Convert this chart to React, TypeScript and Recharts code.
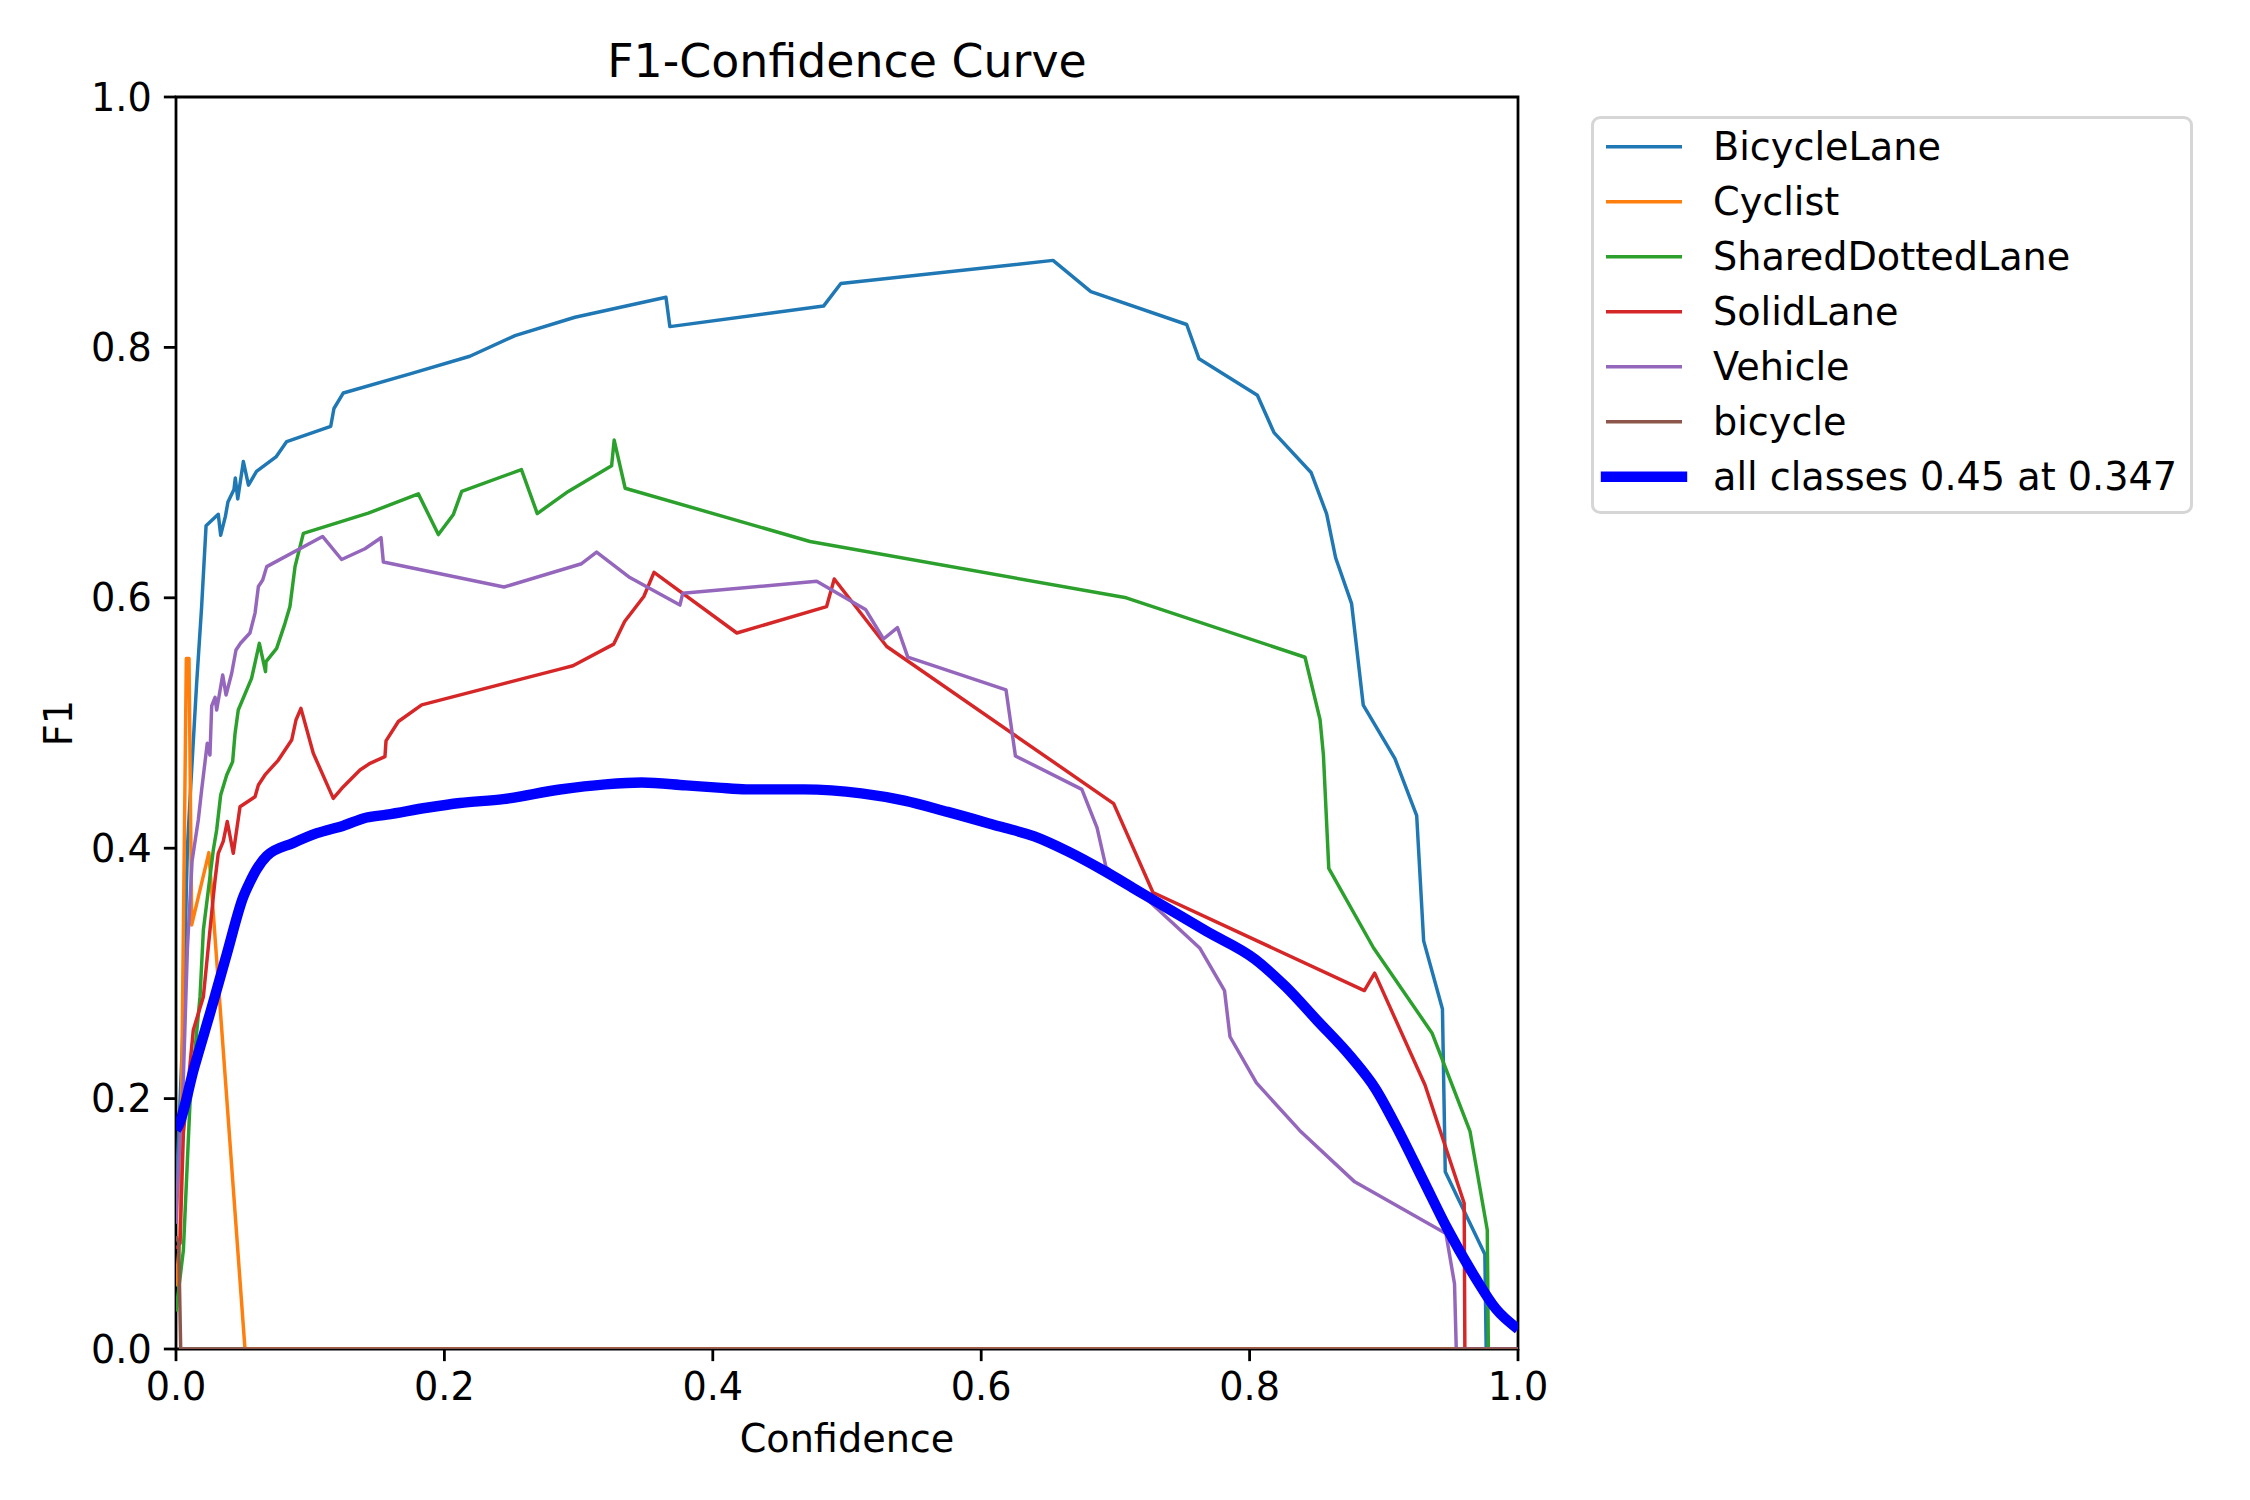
import { LineChart, Line, XAxis, YAxis, ReferenceArea, Legend } from "recharts"

// [confidence, F1] pairs per class
const bicycleLane = [
  [0, 0.12], [0.005, 0.25], [0.0085, 0.4], [0.011, 0.45], [0.0154, 0.532], [0.0191, 0.593],
  [0.0224, 0.6575], [0.0315, 0.6667], [0.0333, 0.65], [0.0368, 0.665], [0.0387, 0.6765],
  [0.0432, 0.6865], [0.0442, 0.6957], [0.046, 0.679], [0.0502, 0.7088], [0.054, 0.69],
  [0.06, 0.701], [0.0745, 0.7125], [0.0825, 0.7248], [0.1153, 0.737], [0.1177, 0.7512],
  [0.1247, 0.7636], [0.1744, 0.7788], [0.219, 0.7929], [0.2526, 0.8094], [0.2973, 0.8241],
  [0.3651, 0.84], [0.368, 0.8166], [0.4825, 0.833], [0.4954, 0.851], [0.6535, 0.8695],
  [0.6817, 0.8445], [0.7531, 0.8183], [0.7623, 0.7909], [0.8058, 0.7618], [0.8182, 0.7319],
  [0.8458, 0.7001], [0.8574, 0.667], [0.8641, 0.632], [0.876, 0.5953], [0.8847, 0.5142],
  [0.9083, 0.4715], [0.9245, 0.4261], [0.9297, 0.326], [0.9437, 0.2716], [0.9458, 0.1415],
  [0.9753, 0.0756], [0.9763, 0], [1, 0],
]

const cyclist = [
  [0, 0.05], [0.003, 0.09], [0.0077, 0.5516], [0.0097, 0.5516], [0.0117, 0.3387],
  [0.0245, 0.3965], [0.0514, 0], [1, 0],
]

const sharedDottedLane = [
  [0, 0.03], [0.0055, 0.079], [0.0104, 0.196], [0.0179, 0.2814], [0.0204, 0.3347],
  [0.0278, 0.3986], [0.0303, 0.4145], [0.0333, 0.4425], [0.0378, 0.4585], [0.0422, 0.4691],
  [0.044, 0.4917], [0.0464, 0.5104], [0.0563, 0.5356], [0.0621, 0.5636], [0.0667, 0.541],
  [0.0671, 0.549], [0.075, 0.5596], [0.0812, 0.5796], [0.0849, 0.593], [0.0887, 0.6249],
  [0.0949, 0.6515], [0.1433, 0.6676], [0.1806, 0.683], [0.1955, 0.6505], [0.2067, 0.6666],
  [0.2129, 0.685], [0.2574, 0.7024], [0.2692, 0.6673], [0.2923, 0.685], [0.3246, 0.7054],
  [0.3265, 0.726], [0.3347, 0.6875], [0.4724, 0.645], [0.7081, 0.6], [0.8413, 0.5525],
  [0.8525, 0.5027], [0.855, 0.4745], [0.859, 0.3839], [0.8924, 0.3203], [0.9359, 0.2524],
  [0.9642, 0.1741], [0.9771, 0.0951], [0.9779, 0], [1, 0],
]

const solidLane = [
  [0, 0.08], [0.003, 0.0844], [0.0055, 0.1722], [0.0129, 0.2548], [0.0204, 0.2814],
  [0.0278, 0.3613], [0.0291, 0.3746], [0.0315, 0.3959], [0.0352, 0.4054], [0.0382, 0.4213],
  [0.0427, 0.3959], [0.0477, 0.4331], [0.0589, 0.4411], [0.0614, 0.4505], [0.0663, 0.4585],
  [0.0763, 0.4704], [0.0862, 0.4864], [0.0894, 0.5024], [0.0931, 0.5117], [0.1023, 0.4758],
  [0.1172, 0.4398], [0.1247, 0.4491], [0.1371, 0.4625], [0.1446, 0.4678], [0.1557, 0.4731],
  [0.1565, 0.4857], [0.1657, 0.5012], [0.1831, 0.5145], [0.2861, 0.543], [0.2958, 0.5457],
  [0.3262, 0.563], [0.3343, 0.5811], [0.3486, 0.601], [0.3562, 0.6203], [0.4179, 0.5719],
  [0.4848, 0.593], [0.4905, 0.615], [0.5296, 0.5611], [0.6987, 0.4356], [0.728, 0.3646],
  [0.8855, 0.2863], [0.8932, 0.3002], [0.9307, 0.2109], [0.9599, 0.1164], [0.9604, 0], [1, 0],
]

const vehicle = [
  [0, 0.1], [0.003, 0.17], [0.005, 0.2], [0.0085, 0.32], [0.012, 0.39], [0.0166, 0.4225],
  [0.0191, 0.4465], [0.0233, 0.4838], [0.0253, 0.4744], [0.0266, 0.5136], [0.0291, 0.5205],
  [0.0303, 0.5104], [0.0348, 0.5383], [0.0373, 0.5224], [0.0415, 0.5397], [0.0447, 0.5583],
  [0.0482, 0.5639], [0.0551, 0.5719], [0.0589, 0.5878], [0.0614, 0.609], [0.0646, 0.6142],
  [0.0676, 0.6249], [0.1092, 0.649], [0.1234, 0.6306], [0.1408, 0.6392], [0.1528, 0.648],
  [0.1545, 0.6286], [0.2444, 0.6086], [0.3022, 0.6272], [0.3134, 0.6365], [0.3382, 0.6162],
  [0.3755, 0.5942], [0.3776, 0.6036], [0.4774, 0.6132], [0.5138, 0.5907], [0.5272, 0.5671],
  [0.5376, 0.5762], [0.5453, 0.5526], [0.6185, 0.5264], [0.6255, 0.4737], [0.675, 0.447],
  [0.6863, 0.4164], [0.693, 0.3848], [0.7217, 0.3611], [0.7628, 0.3203], [0.7813, 0.2863],
  [0.7854, 0.2494], [0.8051, 0.2125], [0.8373, 0.1746], [0.8783, 0.1335], [0.9463, 0.0922],
  [0.9527, 0.052], [0.954, 0], [1, 0],
]

const bicycle = [[0, 0.09], [0.002, 0.085], [0.0035, 0], [1, 0]]

const allClasses = [
  [0, 0.175], [0.0017, 0.178], [0.0135, 0.2245], [0.026, 0.2705], [0.038, 0.316],
  [0.0502, 0.3613], [0.0551, 0.373], [0.06, 0.383],
  [0.0676, 0.3938], [0.0874, 0.4042], [0.105, 0.412], [0.1247, 0.418], [0.1421, 0.4245],
  [0.157, 0.4268], [0.1868, 0.4323], [0.2116, 0.4361], [0.2439, 0.4392], [0.2861, 0.4469],
  [0.32, 0.451], [0.347, 0.4525], [0.38, 0.4502], [0.4038, 0.4484], [0.425, 0.447],
  [0.468, 0.447], [0.5107, 0.4438], [0.5427, 0.438], [0.575, 0.429], [0.614, 0.4173],
  [0.6396, 0.4095], [0.6653, 0.3971], [0.691, 0.3823], [0.7166, 0.3661], [0.7423, 0.3498],
  [0.7679, 0.3336], [0.8039, 0.3114], [0.827, 0.2893], [0.8501, 0.2627], [0.8757, 0.2331],
  [0.8937, 0.208], [0.909, 0.1784], [0.9297, 0.1341], [0.9476, 0.0956], [0.968, 0.0573],
  [0.9835, 0.0321], [1, 0.016],
]

const ticks = [0, 0.2, 0.4, 0.6, 0.8, 1.0]

const FONT = "DejaVu Sans"
const PT = 250 / 72 // px per point at 250 dpi

const series = [
  { name: "BicycleLane", color: "#1f77b4", pts: bicycleLane, lw: 1 },
  { name: "Cyclist", color: "#ff7f0e", pts: cyclist, lw: 1 },
  { name: "SharedDottedLane", color: "#2ca02c", pts: sharedDottedLane, lw: 1 },
  { name: "SolidLane", color: "#d62728", pts: solidLane, lw: 1 },
  { name: "Vehicle", color: "#9467bd", pts: vehicle, lw: 1 },
  { name: "bicycle", color: "#8c564b", pts: bicycle, lw: 1 },
  { name: "all classes 0.45 at 0.347", color: "#0000ff", pts: allClasses, lw: 3 },
]

const toRows = (pts: number[][]) => pts.map(([x, y]) => ({ x, y }))

function LegendBox() {
  const rowH = 55
  return (
    <svg width={602} height={398} style={{ display: "block" }}>
      <rect x={1.5} y={1.5} width={599} height={395} rx={7.6} fill="#fff" fillOpacity={0.8}
        stroke="#cccccc" strokeOpacity={0.8} strokeWidth={3} />
      {series.map((s, i) => {
        const cy = 30.7 + i * rowH
        return (
          <g key={s.name}>
            <line x1={15} x2={91} y1={cy} y2={cy} stroke={s.color} strokeWidth={s.lw * PT}
              strokeLinecap={s.lw > 1 ? "square" : "butt"} />
            <text x={122} y={cy + 13} fontFamily={FONT} fontSize={11 * PT} fill="#000">{s.name}</text>
          </g>
        )
      })}
    </svg>
  )
}

export default function App() {
  return (
    <div style={{ position: "absolute", left: 0, top: 0, background: "#fff" }}>
      <LineChart width={2250} height={1500} margin={{ top: 97, right: 732, bottom: 0, left: 0 }}>
        <XAxis
          type="number"
          dataKey="x"
          domain={[0, 1]}
          ticks={ticks}
          interval={0}
          allowDataOverflow
          height={151}
          tickFormatter={(v: number) => v.toFixed(1)}
          tickSize={3.5 * PT}
          tickMargin={3.5 * PT}
          axisLine={false}
          tickLine={{ stroke: "#000", strokeWidth: 0.8 * PT }}
          tick={{ fill: "#000", fontSize: 11 * PT, fontFamily: FONT }}
          label={{
            content: (p: any) => (
              <text x={p.viewBox.x + p.viewBox.width / 2} y={p.viewBox.y + 103} textAnchor="middle"
                fontFamily={FONT} fontSize={11 * PT} fill="#000">Confidence</text>
            ),
          }}
        />
        <YAxis
          type="number"
          dataKey="y"
          domain={[0, 1]}
          ticks={ticks}
          interval={0}
          allowDataOverflow
          width={176}
          tickFormatter={(v: number) => v.toFixed(1)}
          tickSize={3.5 * PT}
          tickMargin={3.5 * PT}
          axisLine={false}
          tickLine={{ stroke: "#000", strokeWidth: 0.8 * PT }}
          tick={{ fill: "#000", fontSize: 11 * PT, fontFamily: FONT }}
          label={{
            content: (p: any) => {
              const cx = p.viewBox.x + 72
              const cy = p.viewBox.y + p.viewBox.height / 2
              return (
                <text x={cx} y={cy} transform={`rotate(-90 ${cx} ${cy})`} textAnchor="middle"
                  fontFamily={FONT} fontSize={11 * PT} fill="#000">F1</text>
              )
            },
          }}
        />
        {series.map((s) => (
          <Line
            key={s.name}
            data={toRows(s.pts)}
            dataKey="y"
            name={s.name}
            type={s.lw > 1 ? "monotone" : "linear"}
            stroke={s.color}
            strokeWidth={s.lw * PT}
            strokeLinejoin="round"
            dot={false}
            activeDot={false}
            isAnimationActive={false}
          />
        ))}
        <ReferenceArea x1={0} x2={1} y1={0} y2={1} fill="none" stroke="#000" strokeWidth={0.8 * PT} ifOverflow="visible" />
        <Legend
          layout="vertical"
          align="center"
          verticalAlign="middle"
          content={() => <LegendBox />}
          wrapperStyle={{ position: "absolute", left: 1591, top: 116, width: 602, height: 398 }}
        />
        <text x={847} y={77} textAnchor="middle" fontFamily={FONT} fontSize={13.2 * PT} fill="#000">
          F1-Confidence Curve
        </text>
      </LineChart>
    </div>
  )
}
